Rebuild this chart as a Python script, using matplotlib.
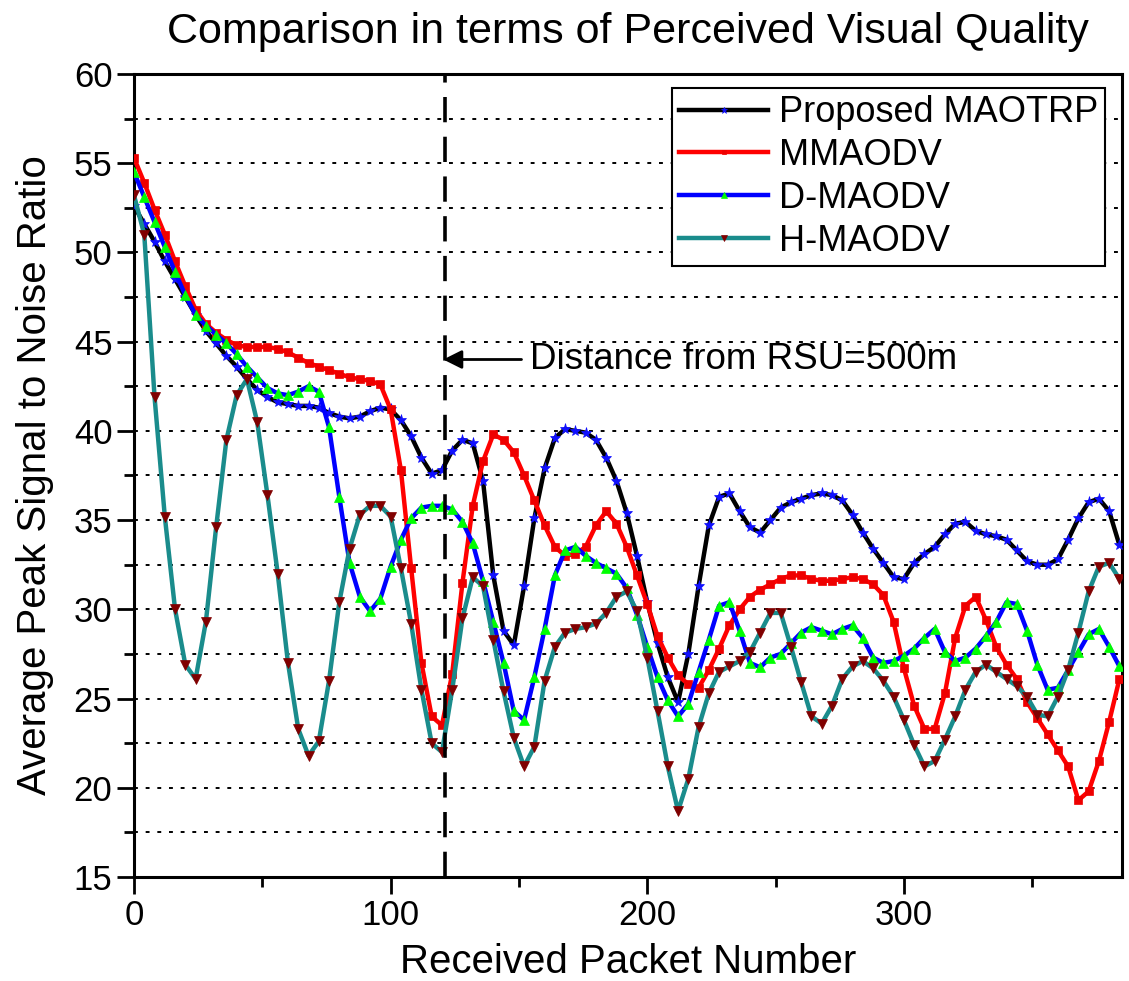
import matplotlib
matplotlib.use("Agg")
import matplotlib.pyplot as plt
from matplotlib.ticker import MultipleLocator

plt.rcParams['font.family'] = ['Liberation Sans', 'DejaVu Sans']

# ---- data ----
packets = list(range(0, 388, 4))

proposed = [52.6, 51.6, 50.6, 49.5, 48.5, 47.5, 46.5,
            45.6, 44.9, 44.2, 43.6, 42.9, 42.3, 41.9, 41.6,
            41.5, 41.4, 41.4, 41.3, 41.0, 40.8, 40.7, 40.8, 41.1, 41.3,
            41.2, 40.6, 39.7, 38.5, 37.6, 37.8, 38.9, 39.5, 39.3, 37.2,
            31.9, 28.8, 28.0, 31.3, 35.1, 37.9, 39.6, 40.1, 40.0, 39.9,
            39.5, 38.5, 37.2, 35.4, 33.0, 30.4, 28.1, 26.2, 24.8, 27.5,
            31.3, 34.7, 36.3, 36.5, 35.5, 34.6, 34.3, 35.0, 35.7, 36.0,
            36.2, 36.4, 36.5, 36.4, 36.1, 35.3, 34.3, 33.4, 32.6, 31.8,
            31.7, 32.6, 33.1, 33.5, 34.2, 34.8, 34.9, 34.4, 34.2, 34.1,
            33.9, 33.3, 32.7, 32.5, 32.5, 32.8, 33.9, 35.1, 36.0, 36.2,
            35.5, 33.6]

mmaodv = [55.3, 53.9, 52.4, 51.0, 49.5, 48.1, 46.8,
          46.0, 45.5, 45.1, 44.8, 44.7, 44.7, 44.7, 44.6,
          44.4, 44.1, 43.8, 43.6, 43.4, 43.2, 43.0, 42.9, 42.8, 42.6,
          41.2, 37.8, 32.3, 27.0, 24.0, 23.5, 26.4, 31.5, 35.8, 38.3,
          39.8, 39.5, 38.8, 37.5, 36.1, 34.7, 33.5, 33.0, 33.1, 33.5,
          34.7, 35.5, 34.8, 33.5, 31.9, 30.3, 28.5, 27.3, 26.3, 25.8,
          25.6, 26.6, 27.8, 29.1, 30.0, 30.7, 31.1, 31.4, 31.7, 31.9,
          31.9, 31.7, 31.6, 31.6, 31.7, 31.8, 31.7, 31.4, 30.8, 29.3,
          26.7, 24.6, 23.3, 23.3, 25.3, 28.4, 30.2, 30.7, 29.4, 27.9,
          26.9, 26.1, 24.8, 23.9, 23.0, 22.1, 21.2, 19.3, 19.8, 21.5,
          23.7, 26.1]

dmaodv = [54.5, 53.1, 51.7, 50.3, 48.9, 47.6, 46.5,
          45.9, 45.4, 44.9, 44.3, 43.6, 43.0, 42.4, 42.1,
          42.0, 42.2, 42.5, 42.2, 40.2, 36.3, 32.6, 30.7, 29.9, 30.6,
          32.4, 33.9, 35.1, 35.7, 35.8, 35.8, 35.6, 34.9, 33.7, 31.6,
          29.3, 27.0, 24.3, 23.8, 26.2, 28.9, 31.9, 33.3, 33.5, 33.0,
          32.6, 32.3, 32.0, 31.2, 29.7, 27.9, 26.2, 24.9, 24.0, 24.7,
          26.5, 28.3, 30.2, 30.4, 28.8, 27.0, 26.75, 27.3, 27.5, 28.1,
          28.7, 29.0, 28.8, 28.6, 28.9, 29.1, 28.4, 27.3, 27.0, 27.1,
          27.4, 27.8, 28.4, 28.9, 27.6, 27.1, 27.3, 27.8, 28.5, 29.3,
          30.4, 30.3, 28.8, 26.9, 25.5, 25.6, 26.6, 27.6, 28.6, 28.9,
          27.9, 26.8]

hmaodv = [53.2, 51.0, 41.9, 35.2, 30.0, 26.9, 26.1,
          29.3, 34.6, 39.5, 42.0, 42.9, 40.5, 36.4, 32.0,
          27.0, 23.3, 21.8, 22.6, 26.0, 30.4, 33.4, 35.3, 35.8, 35.8,
          35.2, 32.3, 29.2, 25.5, 22.5, 22.0, 25.5, 29.5, 31.8, 31.3,
          28.3, 25.4, 22.8, 21.2, 22.3, 26.0, 27.9, 28.7, 28.9, 29.0,
          29.2, 29.8, 30.7, 31.0, 29.9, 27.3, 24.3, 21.2, 18.7, 20.5,
          23.4, 25.3, 26.5, 26.8, 27.1, 27.6, 28.7, 29.8, 29.8, 27.9,
          25.9, 24.0, 23.6, 24.6, 26.1, 26.8, 27.1, 26.7, 26.0, 25.1,
          23.8, 22.4, 21.2, 21.5, 22.7, 24.0, 25.5, 26.5, 26.9, 26.5,
          26.1, 25.7, 25.1, 24.1, 24.0, 25.1, 26.6, 28.7, 31.0, 32.4,
          32.6, 31.7]

labels = ["Proposed MAOTRP", "MMAODV", "D-MAODV", "H-MAODV"]
x_ticks = [0, 100, 200, 300]
y_ticks = [15, 20, 25, 30, 35, 40, 45, 50, 55, 60]
rsu_packet = 121
annot_text = "Distance from RSU=500m"

# ---- figure ----
fig = plt.figure(figsize=(11.29, 9.81), dpi=100)
ax = fig.add_axes([0.1187, 0.106, 0.9938 - 0.1187, 0.9246 - 0.106])

ax.set_xlim(0, 385)
ax.set_ylim(15, 60)

# dotted horizontal grid at every 2.5
for yv in [17.5 + 2.5 * i for i in range(17)]:
    ax.axhline(yv, color='black', lw=1.4, ls=(0, (2, 4)), zorder=1)

styles = [
    dict(color='black', marker='*', mfc='#1010ff', mec='#1010ff', ms=8),
    dict(color='#ff0000', marker='s', mfc='#ee0000', mec='#ee0000', ms=6),
    dict(color='#0000ff', marker='^', mfc='#00ff00', mec='#00ff00', ms=7),
    dict(color='#1a8c8c', marker='v', mfc='#800000', mec='#800000', ms=7),
]
series = [proposed, mmaodv, dmaodv, hmaodv]
for vals, lab, st in zip(series, labels, styles):
    ax.plot(packets, vals, lw=3.2, mew=0.5, label=lab, zorder=3, **st)

# vertical RSU line
ax.axvline(rsu_packet, color='black', lw=2.6, ls=(0, (7, 4)), zorder=4)
ax.annotate("", xy=(rsu_packet - 0.5, 44.0), xytext=(151, 44.0),
            arrowprops=dict(arrowstyle='-|>', color='black', lw=2,
                            mutation_scale=28, shrinkA=0, shrinkB=0),
            zorder=5)
ax.text(154.5, 44.0, annot_text, fontsize=26.5, va='center', ha='left', zorder=5)

ax.set_xticks(x_ticks)
ax.set_yticks(y_ticks)
ax.xaxis.set_minor_locator(MultipleLocator(50))
ax.yaxis.set_minor_locator(MultipleLocator(2.5))
ax.tick_params(axis='both', which='major', direction='out', length=12, width=2,
               labelsize=25, top=False, right=False)
ax.tick_params(axis='both', which='minor', direction='out', length=7, width=2,
               top=False, right=False)
for s in ax.spines.values():
    s.set_linewidth(2.2)

ax.set_xlabel("Received Packet Number", fontsize=29, labelpad=8)
ax.set_ylabel("Average Peak Signal to Noise Ratio", fontsize=29, labelpad=14)
ax.set_title("Comparison in terms of Perceived Visual Quality", fontsize=31, pad=22)

leg = ax.legend(loc='upper right', bbox_to_anchor=(0.983, 0.9826), borderaxespad=0,
                fontsize=26, numpoints=1, handlelength=2.45, handletextpad=0.3,
                labelspacing=0.22, borderpad=0.2, fancybox=False, framealpha=1,
                markerscale=0.6)
leg.get_frame().set_edgecolor('black')
leg.get_frame().set_linewidth(1.5)

fig.savefig("out.png", dpi=100)
